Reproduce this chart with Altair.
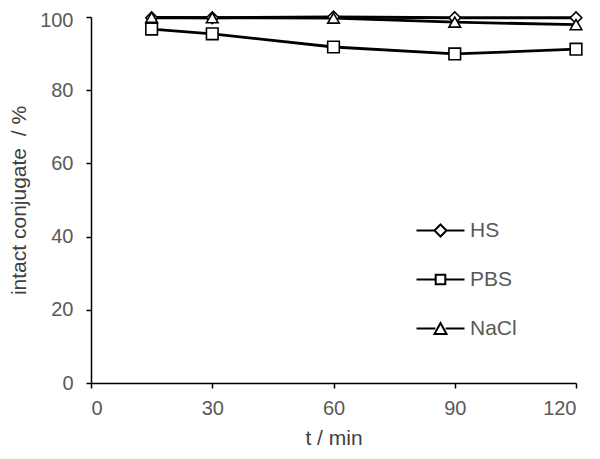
import altair as alt
import pandas as pd

times = [15, 30, 60, 90, 120]
series = ["HS", "PBS", "NaCl"]
hs = [99.8, 99.8, 100.0, 99.8, 99.8]
pbs = [96.7, 95.4, 91.8, 89.9, 91.2]
nacl = [99.9, 99.8, 99.7, 98.6, 97.9]

x_ticks = [0, 30, 60, 90, 120]
y_ticks = [0, 20, 40, 60, 80, 100]

rows = []
for i, (name, vals) in enumerate(zip(series, [hs, pbs, nacl])):
    for t, v in zip(times, vals):
        rows.append({"t": t, "value": v, "series": name, "order": i})
df = pd.DataFrame(rows)

plot_shapes = ["diamond", "square", "triangle-up"]
legend_paths = [
    "M-4,0H-1M1,0H4M-1,0L0,-1L1,0L0,1Z",
    "M-4,0H-0.8M0.8,0H4M-0.8,-0.8H0.8V0.8H-0.8Z",
    "M-4,0H-0.85M0.85,0H4M0,-0.9L1,0.9H-1Z",
]

FONT = "Liberation Sans"

x_enc = alt.X("t:Q", scale=alt.Scale(domain=[0, 120], nice=False),
              axis=alt.Axis(values=x_ticks, title="t / min"))
y_enc = alt.Y("value:Q", scale=alt.Scale(domain=[0, 100], nice=False),
              axis=alt.Axis(values=y_ticks, title="intact conjugate\u00a0 / %",
                            labelOffset={"condition": {"test": "datum.value == 100", "value": 3},
                                         "value": 0}))

base = alt.Chart(df)

lines = base.mark_line(color="black", strokeWidth=2.8).encode(
    x=x_enc, y=y_enc, detail="series:N", order="order:Q"
)

points = base.mark_point(filled=True, fill="white", stroke="black",
                         strokeWidth=1.6, size=135, opacity=1).encode(
    x=x_enc, y=y_enc,
    shape=alt.Shape("series:N", scale=alt.Scale(domain=series, range=plot_shapes), legend=None),
    order="order:Q",
)

legend_layer = base.transform_filter("false").mark_point(
    filled=False, color="black", stroke="black", strokeWidth=2, size=144, opacity=1
).encode(
    x=x_enc, y=y_enc,
    shape=alt.Shape(
        "series:N",
        scale=alt.Scale(domain=series, range=legend_paths),
        legend=alt.Legend(
            title=None, orient="none", legendX=339, legendY=203,
            symbolSize=144, symbolStrokeColor="black",
            symbolStrokeWidth=2, symbolOpacity=1,
            labelOffset=19, rowPadding=27, padding=0,
            labelFontSize=21, labelColor="#595959", labelFont=FONT,
        ),
    ),
)

chart = alt.layer(lines, points, legend_layer).resolve_scale(shape="independent").properties(
    width=485, height=366,
    autosize=alt.AutoSizeParams(type="none"),
    padding={"left": 83, "top": 9, "right": 16, "bottom": 68},
).configure_view(stroke=None).configure_axis(
    grid=False, domainColor="black", domainWidth=1.5, tickColor="black", tickWidth=1.5,
    tickSize=5, labelFontSize=20, labelColor="#595959", labelFont=FONT,
    titleFontSize=21, titleColor="#404040", titleFont=FONT,
    titleFontWeight="normal",
).configure_axisX(labelPadding=10, titlePadding=9).configure_axisY(labelPadding=13, titlePadding=10)

chart.save("out.html", embed_options={"renderer": "svg", "actions": False})
